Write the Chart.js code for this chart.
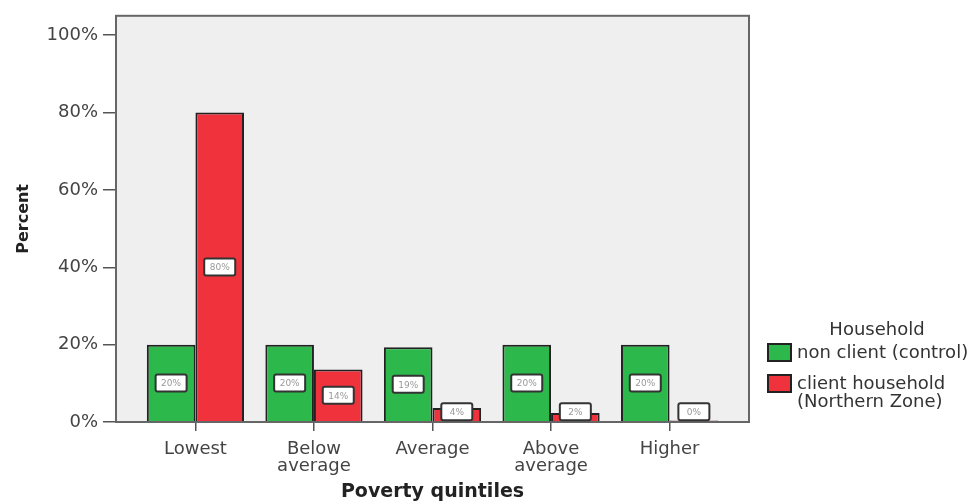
<!DOCTYPE html>
<html>
<head>
<meta charset="utf-8">
<script src="https://cdn.jsdelivr.net/npm/chart.js@4.4.1/dist/chart.umd.min.js"></script>
<style>
    html, body { margin: 0; background: #fff; }
</style>
</head>
<body>
<canvas id="povertyChart" width="977" height="503"></canvas>
<script>
    const categories = ['Lowest', 'Below average', 'Average', 'Above average', 'Higher'];
    const nonClient = [20, 20, 19.3, 20, 20];
    const clientHousehold = [80, 13.6, 3.6, 2.3, 0.4];
    const yTicks = [0, 20, 40, 60, 80, 100];
    const seriesNames = ['non client (control)', 'client household (Northern Zone)'];
    const legendLines = [['non client (control)'], ['client household', '(Northern Zone)']];

    const FONT = '"DejaVu Sans", sans-serif';
    const GREEN = '#2db84b';
    const RED = '#f0323c';

    // grey plot box behind the bars, frame drawn over them
    const plotBox = {
        id: 'plotBox',
        beforeDraw(chart) {
            const { ctx, chartArea: a } = chart;
            ctx.save();
            ctx.fillStyle = '#efefef';
            ctx.fillRect(a.left, a.top, a.width, a.height);
            ctx.restore();
        },
        afterDatasetsDraw(chart) {
            const { ctx, chartArea: a } = chart;
            ctx.save();
            ctx.strokeStyle = '#666';
            ctx.lineWidth = 2;
            ctx.strokeRect(a.left, a.top, a.width, a.height);
            ctx.restore();
        }
    };

    // little white boxes with the percent inside each bar
    const barLabels = {
        id: 'barLabels',
        afterDatasetsDraw(chart) {
            const ctx = chart.ctx;
            chart.data.datasets.forEach((ds, di) => {
                chart.getDatasetMeta(di).data.forEach((bar, i) => {
                    const w = 31, h = 17;
                    let cy = (bar.y + bar.base) / 2;
                    cy = Math.min(cy, bar.base - h / 2 - 1);
                    ctx.save();
                    ctx.fillStyle = '#fff';
                    ctx.strokeStyle = '#333';
                    ctx.lineWidth = 2;
                    ctx.beginPath();
                    ctx.roundRect(bar.x - w / 2, cy - h / 2, w, h, 2);
                    ctx.fill();
                    ctx.stroke();
                    ctx.fillStyle = '#999';
                    ctx.font = '9px ' + FONT;
                    ctx.textAlign = 'center';
                    ctx.textBaseline = 'middle';
                    ctx.fillText(Math.round(ds.data[i].y) + '%', bar.x, cy + 1);
                    ctx.restore();
                });
            });
        }
    };

    const sideLegend = {
        id: 'sideLegend',
        afterDraw(chart) {
            const ctx = chart.ctx;
            ctx.save();
            ctx.font = '18px ' + FONT;
            ctx.fillStyle = '#333';
            ctx.textAlign = 'center';
            ctx.textBaseline = 'middle';
            ctx.fillText('Household', 877, 330);
            ctx.textAlign = 'left';
            const boxTops = [344, 375];
            chart.data.datasets.forEach((ds, di) => {
                ctx.fillStyle = ds.backgroundColor;
                ctx.strokeStyle = '#222';
                ctx.lineWidth = 2;
                ctx.fillRect(768, boxTops[di], 23, 17);
                ctx.strokeRect(768, boxTops[di], 23, 17);
                ctx.fillStyle = '#333';
                legendLines[di].forEach((line, li) => {
                    ctx.fillText(line, 797, boxTops[di] + 9 + li * 18);
                });
            });
            ctx.restore();
        }
    };

    function renderChart() {
        new Chart(document.getElementById('povertyChart').getContext('2d'), {
            type: 'bar',
            data: {
                datasets: [
                    {
                        label: seriesNames[0],
                        data: nonClient.map((v, i) => ({ x: i, y: v })),
                        backgroundColor: GREEN,
                        borderColor: '#222',
                        borderWidth: 2
                    },
                    {
                        label: seriesNames[1],
                        data: clientHousehold.map((v, i) => ({ x: i, y: v })),
                        backgroundColor: RED,
                        borderColor: '#222',
                        borderWidth: 2
                    }
                ]
            },
            options: {
                responsive: false,
                animation: false,
                categoryPercentage: 0.82,
                barPercentage: 1,
                layout: { padding: { top: 13, right: 228, bottom: 0, left: 0 } },
                plugins: { legend: { display: false }, tooltip: { enabled: false } },
                scales: {
                    x: {
                        type: 'linear',
                        min: -0.67,
                        max: 4.67,
                        offset: false,
                        afterFit: s => { s.height = 81; },
                        afterBuildTicks: s => { s.ticks = categories.map((c, i) => ({ value: i })); },
                        grid: { offset: false, drawOnChartArea: false, tickLength: 9, color: '#555', lineWidth: 1.5 },
                        border: { display: false },
                        ticks: {
                            autoSkip: false,
                            maxRotation: 0,
                            padding: 10,
                            color: '#444',
                            font: { family: FONT, size: 18, lineHeight: 0.95 },
                            callback: v => categories[v].split(' ')
                        },
                        title: {
                            display: true,
                            text: 'Poverty quintiles',
                            color: '#222',
                            font: { family: FONT, size: 19, weight: 'bold' },
                            padding: { top: 0, bottom: 0 }
                        }
                    },
                    y: {
                        min: 0,
                        max: 105,
                        afterFit: s => { s.width = 116; },
                        afterBuildTicks: s => { s.ticks = yTicks.map(v => ({ value: v })); },
                        grid: { drawOnChartArea: false, tickLength: 13, color: '#555', lineWidth: 1.5 },
                        border: { display: false },
                        ticks: {
                            padding: 5,
                            color: '#444',
                            font: { family: FONT, size: 18 },
                            callback: v => v + '%'
                        },
                        title: {
                            display: true,
                            text: 'Percent',
                            color: '#222',
                            font: { family: FONT, size: 16, weight: 'bold' },
                            padding: { top: 14, bottom: 0 }
                        }
                    }
                }
            },
            plugins: [plotBox, barLabels, sideLegend]
        });
    }

    window.onload = renderChart;
</script>
</body>
</html>
